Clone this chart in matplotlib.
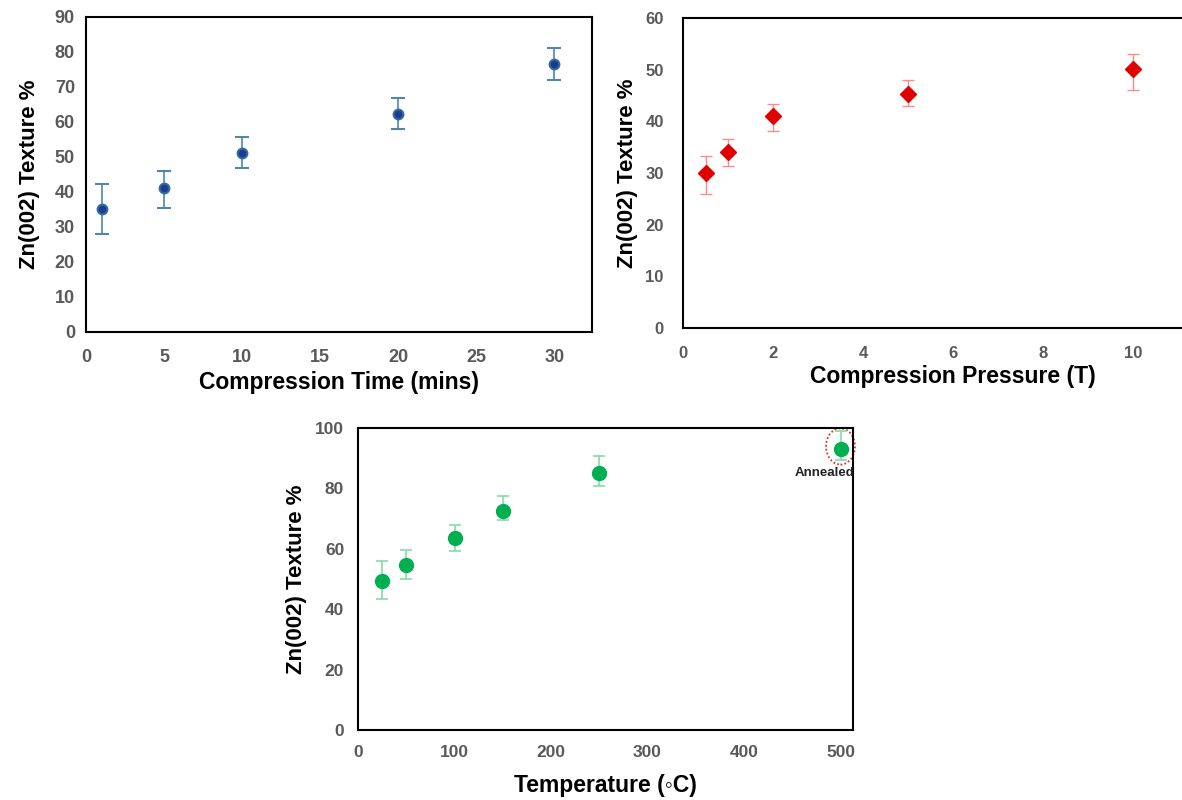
import matplotlib
matplotlib.use("Agg")
import matplotlib.pyplot as plt
from matplotlib.patches import Ellipse

plt.rcParams['font.family'] = ['Liberation Sans', 'DejaVu Sans']
plt.rcParams['font.weight'] = 'bold'

# compression time
time_x = [1, 5, 10, 20, 30]
time_y = [35.0, 41.0, 51.2, 62.2, 76.6]
time_lo = [7.0, 5.6, 4.3, 4.3, 4.6]
time_hi = [7.2, 4.9, 4.4, 4.5, 4.4]

# compression pressure
pres_x = [0.5, 1, 2, 5, 10]
pres_y = [30.0, 34.0, 41.0, 45.3, 50.1]
pres_lo = [4.0, 2.6, 2.8, 2.4, 4.0]
pres_hi = [3.3, 2.6, 2.4, 2.7, 3.0]

# temperature
temp_x = [25, 50, 100, 150, 250, 500]
temp_y = [49.2, 54.5, 63.6, 72.6, 85.0, 92.9]
temp_lo = [5.8, 4.6, 4.2, 3.2, 4.2, 3.5]
temp_hi = [6.6, 5.0, 4.2, 4.8, 5.6, 6.0]

TICK_GRAY = '#595959'


def styleAxes(ax, xlabel, tick_size, xpad, ypad, xlabelpad, ylabelpad):
    for s in ax.spines.values():
        s.set_linewidth(1.5)
        s.set_color('black')
    ax.tick_params(length=0, labelsize=tick_size, labelcolor=TICK_GRAY)
    ax.tick_params(axis='x', pad=xpad)
    ax.tick_params(axis='y', pad=ypad)
    for lab in ax.get_xticklabels() + ax.get_yticklabels():
        lab.set_fontweight('bold')
    ax.set_xlabel(xlabel, fontsize=16.5, fontweight='bold', labelpad=xlabelpad)
    ax.set_ylabel("Zn(002) Texture %", fontsize=16, fontweight='bold', labelpad=ylabelpad)


fig = plt.figure(figsize=(11.82, 8), dpi=100)

# top left
ax1 = fig.add_axes([0.0728, 0.585, 0.428, 0.394])
ax1.errorbar(time_x, time_y, yerr=[time_lo, time_hi], fmt='o', ms=7,
             mfc='#1F3A93', mec='#2F6E99', mew=1.5,
             ecolor='#4F86AA', elinewidth=1.2, capsize=5, capthick=1.2)
ax1.set_xlim(0, 32.4)
ax1.set_ylim(0, 90)
ax1.set_xticks(range(0, 31, 5))
ax1.set_yticks(range(0, 91, 10))
styleAxes(ax1, "Compression Time (mins)", 13, 12, 8, 4, 11)

# top right, cut off by the figure edge like the original
ax2 = fig.add_axes([0.578, 0.59, 0.457, 0.3875])
ax2.errorbar(pres_x, pres_y, yerr=[pres_lo, pres_hi], fmt='D', ms=8,
             mfc='#E00000', mec='#E00000',
             ecolor='#FF8A8A', elinewidth=1.0, capsize=4, capthick=1.0)
ax2.set_xlim(0, 12)
ax2.set_ylim(0, 60)
ax2.set_xticks(range(0, 11, 2))
ax2.set_yticks(range(0, 61, 10))
styleAxes(ax2, "Compression Pressure (T)", 12, 13, 14, 3, 5)

# bottom
ax3 = fig.add_axes([0.3029, 0.0875, 0.4188, 0.3775])
ax3.errorbar(temp_x, temp_y, yerr=[temp_lo, temp_hi], fmt='o', ms=10,
             mfc='#00B050', mec='#00B050',
             ecolor='#86DCA5', elinewidth=1.2, capsize=4, capthick=1.2)
ax3.set_xlim(0, 513)
ax3.set_ylim(0, 100)
ax3.set_xticks(range(0, 501, 100))
ax3.set_yticks(range(0, 101, 20))
styleAxes(ax3, "Temperature (\u25e6C)", 12.5, 11, 10, 10, 6)

# annealed marker
ax3.add_patch(Ellipse((temp_x[-1], temp_y[-1] + 1), 30, 12, fill=False,
                      ec='#E03030', ls=(0, (1, 1.2)), lw=1.3, clip_on=False))
ax3.text(temp_x[-1] - 17, temp_y[-1] - 5.8, "Annealed", fontsize=9.5,
         fontweight='bold', ha='center', va='top', color='#222222')

fig.savefig("out.png", dpi=100)
